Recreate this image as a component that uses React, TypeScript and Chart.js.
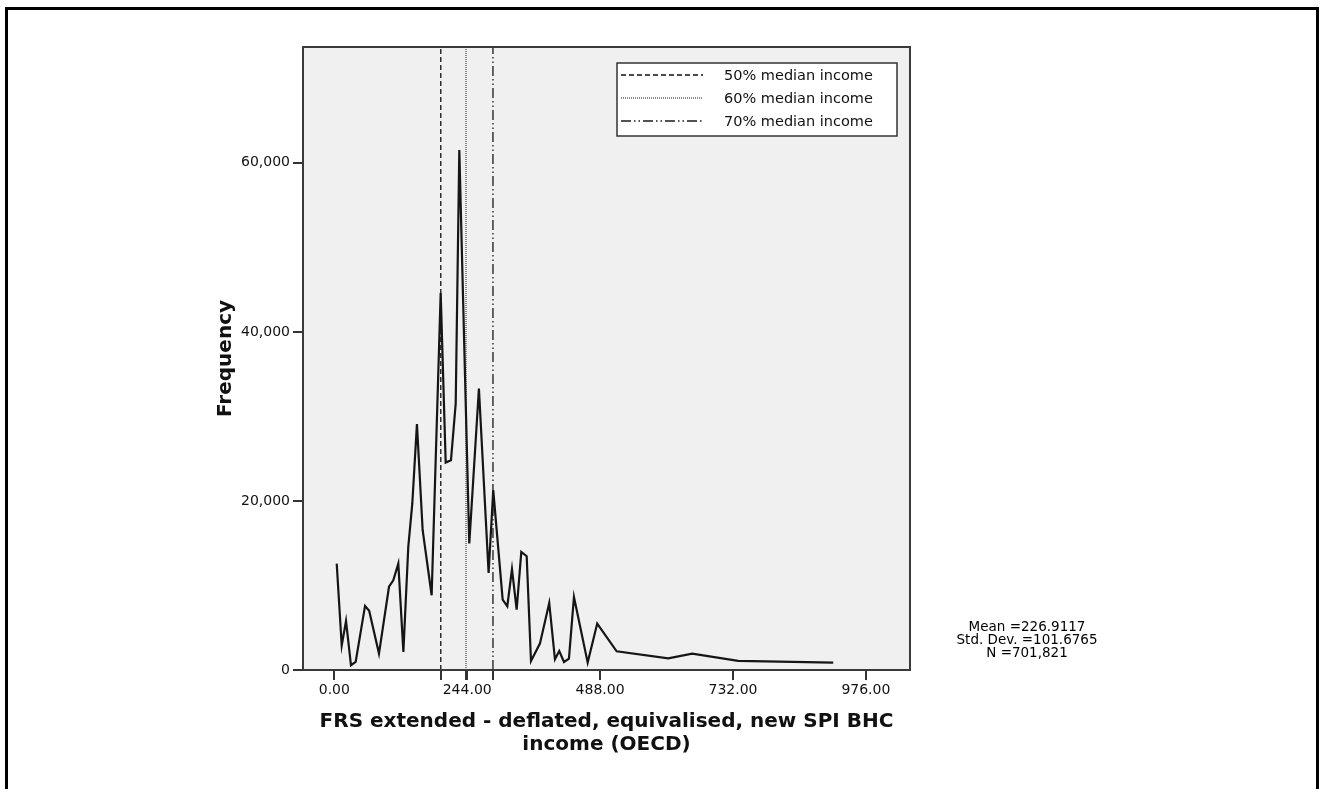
import React, { useEffect, useRef } from "react";
import { Chart, registerables } from "chart.js";

Chart.register(...registerables);

// ---- Data ----
const incomeValues = [
  4.4, 13.6, 21.5, 30.6, 39.2, 56.4, 64.0, 82.0, 100.4, 108.3, 117.5, 126.8,
  135.8, 143.2, 151.7, 162.2, 178.7, 195.3, 204.5, 214.2, 222.9, 229.5, 247.8,
  265.5, 283.3, 291.8, 309.1, 317.6, 326.2, 334.8, 343.3, 353.2, 361.1, 377.5,
  394.6, 405.1, 413.0, 421.7, 430.8, 440.0, 465.2, 482.7, 518.4, 613.1, 657.1,
  741.5, 916.0,
];
const frequencies = [
  12590, 2900, 5800, 560, 950, 7580, 7000, 1940, 9850, 10600, 12590, 2130,
  14560, 19700, 29080, 16530, 8840, 44600, 24540, 24820, 31530, 61500, 14960,
  33300, 11480, 21270, 8330, 7540, 11920, 7150, 13970, 13460, 1070, 3120,
  7930, 1270, 2250, 950, 1350, 8640, 875, 5490, 2210, 1385, 1940,
  1070, 875,
];
const xTickValues = [0, 244, 488, 732, 976];
const yTickValues = [0, 20000, 40000, 60000];
const refLabels = ["50% median income", "60% median income", "70% median income"];
const refValues = [195.5, 241.8, 291.3];
const statsLines = ["Mean =226.9117", "Std. Dev. =101.6765", "N =701,821"];
const xTitle = ["FRS extended - deflated, equivalised, new SPI BHC", "income (OECD)"];
const yTitle = "Frequency";
const X_MIN = -57.5;
const X_MAX = 1057;
const Y_MAX = 73700;

const FONT = '"DejaVu Sans", Verdana, sans-serif';
const refStyles = [
  { dash: [5, 3], color: "#111", width: 1.3 },
  { dash: [1, 1], color: "#333", width: 1.1 },
  { dash: [10, 3, 1.5, 3, 1.5, 3], color: "#1a1a1a", width: 1.3 },
];

const framePlugin = {
  id: "plotFrame",
  beforeDatasetsDraw(chart: any) {
    const { ctx, chartArea: a } = chart;
    ctx.save();
    ctx.fillStyle = "#f0f0f0";
    ctx.fillRect(a.left, a.top, a.right - a.left, a.bottom - a.top);
    ctx.restore();
  },
  afterDatasetsDraw(chart: any) {
    const { ctx, chartArea: a } = chart;
    ctx.save();
    ctx.strokeStyle = "#3a3a3a";
    ctx.lineWidth = 2;
    ctx.strokeRect(a.left, a.top, a.right - a.left, a.bottom - a.top);
    ctx.restore();
  },
};

const boxLegendPlugin = {
  id: "boxLegend",
  afterDraw(chart: any) {
    const ctx = chart.ctx;
    const left = 617;
    const top = 63;
    const w = 280;
    const h = 73;
    ctx.save();
    ctx.fillStyle = "#ffffff";
    ctx.fillRect(left, top, w, h);
    ctx.strokeStyle = "#333";
    ctx.lineWidth = 1.5;
    ctx.strokeRect(left, top, w, h);
    const refs = chart.data.datasets.filter((d: any) => d.isRef);
    refs.forEach((ds: any, i: number) => {
      const y = top + 12 + i * 23;
      ctx.beginPath();
      ctx.setLineDash(ds.borderDash || []);
      ctx.strokeStyle = ds.borderColor;
      ctx.lineWidth = ds.borderWidth;
      ctx.moveTo(621, y);
      ctx.lineTo(703, y);
      ctx.stroke();
      ctx.setLineDash([]);
      ctx.fillStyle = "#111";
      ctx.font = `14.5px ${FONT}`;
      ctx.textAlign = "left";
      ctx.textBaseline = "middle";
      ctx.fillText(ds.label, 724, y + 1);
    });
    ctx.restore();
  },
};

const statsPlugin = {
  id: "statsText",
  afterDraw(chart: any) {
    const ctx = chart.ctx;
    ctx.save();
    ctx.fillStyle = "#000";
    ctx.font = `13.5px ${FONT}`;
    ctx.textAlign = "center";
    ctx.textBaseline = "middle";
    statsLines.forEach((t, i) => ctx.fillText(t, 1027, 627 + i * 13));
    ctx.restore();
  },
};

export default function App() {
  const canvasRef = useRef<HTMLCanvasElement | null>(null);

  useEffect(() => {
    if (!canvasRef.current) return;
    Chart.defaults.font.family = FONT;
    const mainData = incomeValues.map((x, i) => ({ x, y: frequencies[i] }));
    const refDatasets = refValues.map((v, i) => ({
      label: refLabels[i],
      isRef: true,
      data: [
        { x: v, y: 0 },
        { x: v, y: Y_MAX },
      ],
      borderColor: refStyles[i].color,
      borderWidth: refStyles[i].width,
      borderDash: refStyles[i].dash,
      pointRadius: 0,
      tension: 0,
      order: 2,
    }));

    const chart = new Chart(canvasRef.current, {
      type: "line",
      data: {
        datasets: [
          {
            label: "Frequency",
            data: mainData,
            borderColor: "#151515",
            borderWidth: 2.2,
            pointRadius: 0,
            tension: 0,
            order: 1,
          } as any,
          ...(refDatasets as any[]),
        ],
      },
      options: {
        animation: false,
        responsive: false,
        devicePixelRatio: 1,
        layout: { padding: { left: 213, right: 412, top: 47, bottom: 33 } },
        plugins: {
          legend: { display: false },
          tooltip: { enabled: false },
        },
        scales: {
          x: {
            type: "linear",
            min: X_MIN,
            max: X_MAX,
            afterBuildTicks: (scale: any) => {
              scale.ticks = [...xTickValues, ...refValues]
                .sort((a, b) => a - b)
                .map((value) => ({ value }));
            },
            afterFit: (scale: any) => {
              scale.height = 86;
            },
            ticks: {
              autoSkip: false,
              maxRotation: 0,
              padding: 2,
              color: "#111",
              font: { size: 14, family: FONT },
              callback: (value: any) =>
                xTickValues.includes(Number(value)) ? Number(value).toFixed(2) : "",
            },
            grid: {
              display: true,
              drawOnChartArea: false,
              drawTicks: true,
              tickLength: 10,
              color: "#333",
              lineWidth: 2,
            },
            border: { display: true, color: "#3a3a3a", width: 2 },
            title: {
              display: true,
              text: xTitle,
              color: "#111",
              font: { size: 20, weight: "bold", family: FONT, lineHeight: 1.15 },
              padding: { top: 0, bottom: 0 },
            },
          },
          y: {
            type: "linear",
            min: 0,
            max: Y_MAX,
            afterBuildTicks: (scale: any) => {
              scale.ticks = yTickValues.map((value) => ({ value }));
            },
            afterFit: (scale: any) => {
              scale.width = 90;
            },
            ticks: {
              padding: 3,
              color: "#111",
              font: { size: 14, family: FONT },
              callback: (value: any) => Number(value).toLocaleString("en-US"),
            },
            grid: {
              display: true,
              drawOnChartArea: false,
              drawTicks: true,
              tickLength: 10,
              color: "#333",
              lineWidth: 2,
            },
            border: { display: true, color: "#3a3a3a", width: 2 },
            title: {
              display: true,
              text: yTitle,
              color: "#111",
              font: { size: 20, weight: "bold", family: FONT, lineHeight: 1.2 },
              padding: { top: 1, bottom: 0 },
            },
          },
        },
      } as any,
      plugins: [framePlugin, boxLegendPlugin, statsPlugin],
    });
    return () => chart.destroy();
  }, []);

  return (
    <div
      style={{
        position: "fixed",
        left: 0,
        top: 0,
        width: 1322,
        height: 789,
        overflow: "hidden",
        background: "#ffffff",
      }}
    >
      <div
        style={{
          position: "absolute",
          left: 5,
          top: 7,
          width: 1314,
          height: 900,
          boxSizing: "border-box",
          border: "3px solid #000",
        }}
      />
      <canvas
        ref={canvasRef}
        width={1322}
        height={789}
        style={{ position: "absolute", left: 0, top: 0, display: "block" }}
      />
    </div>
  );
}
